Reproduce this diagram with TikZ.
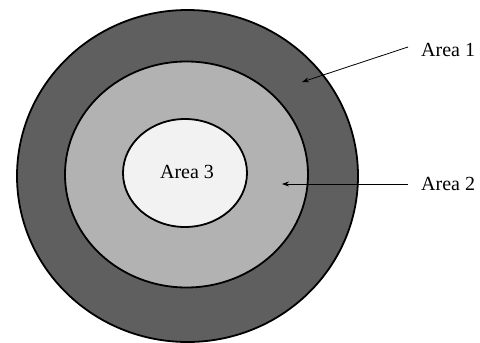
\documentclass[tikz,border=0pt]{standalone}
\usepackage{fontspec}
\setmainfont{Liberation Serif}
\usetikzlibrary{shapes.geometric,arrows.meta}
\definecolor{ringdark}{HTML}{5F5F5F}
\definecolor{ringmid}{HTML}{B2B2B2}
\definecolor{ringcore}{HTML}{F2F2F2}
\begin{document}
\begin{tikzpicture}[x=1pt,y=-1pt,
  zone/.style={ellipse,draw=black,line width=1.8pt,inner sep=0pt},
  label/.style={font=\fontsize{20}{22}\selectfont,inner sep=0pt,anchor=west},
  pointer/.style={draw=black,line width=0.8pt,-{Stealth[length=7pt,width=5pt]}}]
  \useasboundingbox (0,0) rectangle (480,343);
  % nested zones, drawn from outside in
  \node[zone,fill=ringdark,minimum width=341pt,minimum height=332pt] (z1) at (187.5,176) {};
  \node[zone,fill=ringmid,minimum width=243pt,minimum height=226pt] (z2) at (186.5,174.5) {};
  \node[zone,fill=ringcore,minimum width=124pt,minimum height=108pt] (z3) at (185,173) {};
  \node[font=\fontsize{20}{22}\selectfont] (t3) at (187,172) {Area 3};
  % side labels with their pointers
  \node[label] (t1) at (421,50) {Area 1};
  \node[label] (t2) at (421,184) {Area 2};
  \coordinate (p1) at (302,82);
  \coordinate (p2) at (282,184);
  \draw[pointer] ([xshift=-13pt,yshift=3pt]t1.west) -- (p1);
  \draw[pointer] ([xshift=-13pt]t2.west) -- (p2);
\end{tikzpicture}
\end{document}
